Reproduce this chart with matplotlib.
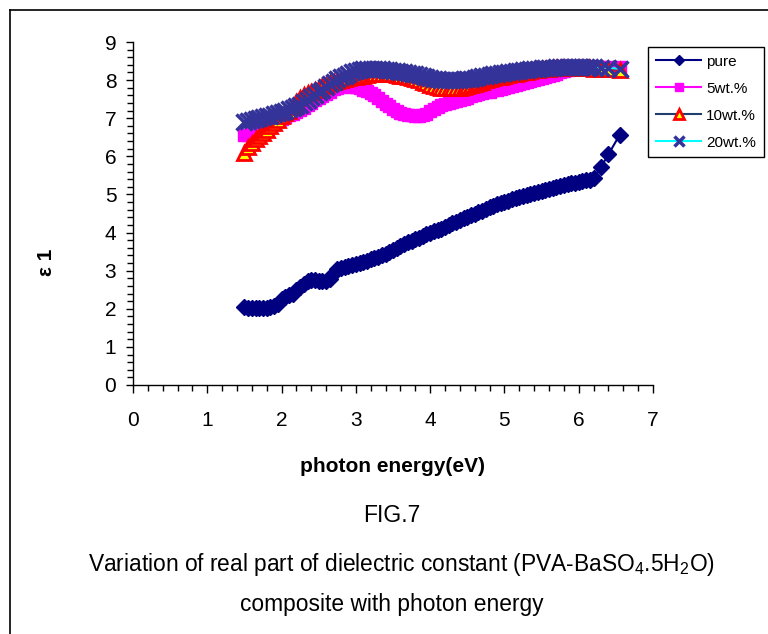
import matplotlib
matplotlib.use("Agg")
import matplotlib.pyplot as plt
from matplotlib.lines import Line2D
from matplotlib.ticker import MultipleLocator

# photon energy (eV)
energy = [1.50, 1.55, 1.60, 1.65, 1.70, 1.75, 1.80, 1.85, 1.90, 1.95,
          2.00, 2.05, 2.10, 2.15, 2.20, 2.25, 2.30, 2.35, 2.40, 2.45,
          2.50, 2.55, 2.60, 2.65, 2.70, 2.75, 2.80, 2.85, 2.90, 2.95,
          3.00, 3.05, 3.10, 3.15, 3.20, 3.25, 3.30, 3.35, 3.40, 3.45,
          3.50, 3.55, 3.60, 3.65, 3.70, 3.75, 3.80, 3.85, 3.90, 3.95,
          4.00, 4.05, 4.10, 4.15, 4.20, 4.25, 4.30, 4.35, 4.40, 4.45,
          4.50, 4.55, 4.60, 4.65, 4.70, 4.75, 4.80, 4.85, 4.90, 4.95,
          5.00, 5.05, 5.10, 5.15, 5.20, 5.25, 5.30, 5.35, 5.40, 5.45,
          5.50, 5.55, 5.60, 5.65, 5.70, 5.75, 5.80, 5.85, 5.90, 5.95,
          6.00, 6.05, 6.10, 6.15, 6.20, 6.30, 6.40, 6.55]

eps_pure = [2.05, 2.03, 2.02, 2.02, 2.02, 2.02, 2.03, 2.05, 2.08, 2.12,
            2.25, 2.30, 2.35, 2.40, 2.50, 2.58, 2.65, 2.72, 2.75, 2.75,
            2.72, 2.72, 2.72, 2.78, 2.95, 3.05, 3.08, 3.10, 3.13, 3.15,
            3.18, 3.20, 3.23, 3.26, 3.30, 3.33, 3.37, 3.41, 3.45, 3.50,
            3.54, 3.59, 3.64, 3.69, 3.74, 3.79, 3.83, 3.87, 3.91, 3.95,
            3.99, 4.03, 4.06, 4.10, 4.14, 4.19, 4.24, 4.29, 4.33, 4.37,
            4.41, 4.45, 4.49, 4.53, 4.57, 4.61, 4.66, 4.70, 4.74, 4.77,
            4.80, 4.84, 4.87, 4.90, 4.93, 4.96, 4.99, 5.02, 5.05, 5.07,
            5.10, 5.12, 5.15, 5.17, 5.20, 5.22, 5.25, 5.27, 5.29, 5.31,
            5.33, 5.35, 5.37, 5.39, 5.42, 5.72, 6.05, 6.56]

eps_5 = [6.55, 6.57, 6.60, 6.64, 6.68, 6.73, 6.78, 6.83, 6.88, 6.93,
         6.98, 7.03, 7.08, 7.12, 7.16, 7.22, 7.28, 7.34, 7.40, 7.47,
         7.53, 7.59, 7.64, 7.70, 7.76, 7.80, 7.82, 7.84, 7.84, 7.83,
         7.81, 7.78, 7.75, 7.71, 7.67, 7.61, 7.54, 7.46, 7.38, 7.31,
         7.24, 7.19, 7.14, 7.11, 7.09, 7.08, 7.07, 7.07, 7.08, 7.12,
         7.18, 7.24, 7.30, 7.34, 7.38, 7.41, 7.43, 7.46, 7.48, 7.51,
         7.54, 7.57, 7.60, 7.63, 7.65, 7.68, 7.70, 7.73, 7.75, 7.77,
         7.79, 7.82, 7.84, 7.87, 7.90, 7.93, 7.95, 7.98, 8.00, 8.03,
         8.05, 8.08, 8.10, 8.13, 8.16, 8.20, 8.23, 8.27, 8.30, 8.32,
         8.33, 8.34, 8.35, 8.35, 8.35, 8.35, 8.35, 8.35]

eps_10 = [6.10, 6.25, 6.35, 6.45, 6.53, 6.62, 6.70, 6.80, 6.88, 6.96,
          7.05, 7.13, 7.20, 7.30, 7.42, 7.52, 7.60, 7.66, 7.70, 7.74,
          7.79, 7.84, 7.88, 7.92, 7.95, 7.98, 8.01, 8.03, 8.05, 8.07,
          8.08, 8.10, 8.12, 8.14, 8.15, 8.16, 8.16, 8.16, 8.16, 8.16,
          8.15, 8.14, 8.12, 8.10, 8.08, 8.05, 8.02, 7.99, 7.95, 7.92,
          7.88, 7.85, 7.82, 7.80, 7.79, 7.78, 7.78, 7.78, 7.79, 7.81,
          7.84, 7.87, 7.90, 7.93, 7.96, 7.99, 8.02, 8.05, 8.07, 8.09,
          8.11, 8.13, 8.15, 8.17, 8.18, 8.20, 8.22, 8.24, 8.26, 8.27,
          8.28, 8.29, 8.30, 8.31, 8.31, 8.31, 8.31, 8.31, 8.31, 8.31,
          8.31, 8.31, 8.31, 8.31, 8.30, 8.30, 8.29, 8.27]

eps_20 = [6.90, 6.92, 6.95, 6.97, 7.00, 7.02, 7.05, 7.07, 7.10, 7.13,
          7.16, 7.19, 7.23, 7.27, 7.31, 7.36, 7.42, 7.48, 7.55, 7.61,
          7.68, 7.75, 7.83, 7.90, 7.96, 8.02, 8.07, 8.12, 8.17, 8.21,
          8.25, 8.27, 8.28, 8.29, 8.29, 8.29, 8.28, 8.28, 8.27, 8.26,
          8.25, 8.24, 8.22, 8.20, 8.18, 8.17, 8.15, 8.14, 8.12, 8.09,
          8.06, 8.04, 8.02, 8.01, 8.00, 8.00, 8.00, 8.00, 8.01, 8.02,
          8.03, 8.04, 8.06, 8.08, 8.10, 8.12, 8.13, 8.15, 8.16, 8.18,
          8.19, 8.21, 8.22, 8.24, 8.25, 8.26, 8.27, 8.28, 8.29, 8.30,
          8.31, 8.32, 8.33, 8.33, 8.34, 8.34, 8.34, 8.34, 8.34, 8.34,
          8.34, 8.34, 8.34, 8.34, 8.34, 8.33, 8.32, 8.30]

labels = ["pure", "5wt.%", "10wt.%", "20wt.%"]

plt.rcParams['font.family'] = ['Liberation Sans', 'DejaVu Sans']
plt.rcParams['mathtext.fontset'] = 'custom'
plt.rcParams['mathtext.rm'] = 'Liberation Sans'

fig = plt.figure(figsize=(7.68, 6.34), dpi=100)
ax = fig.add_axes([133/768, 1-385/634, 520/768, 343/634])

ax.plot(energy, eps_pure, color='#000080', lw=1.5, marker='D', ms=8,
        mfc='#000080', mec='#000080', label=labels[0])
ax.plot(energy, eps_5, color='#FF00FF', lw=1.5, marker='s', ms=8.5,
        mfc='#FF00FF', mec='#FF00FF', label=labels[1])
ax.plot(energy, eps_10, color='#1F3F6F', lw=1.5, marker='^', ms=10,
        mfc='#FFFF00', mec='#FF0000', mew=2, label=labels[2])
ax.plot(energy, eps_20, color='#00FFFF', lw=1.5, marker='x', ms=11,
        mfc='#333399', mec='#333399', mew=2.5, label=labels[3])

ax.set_xlim(0, 7)
ax.set_ylim(0, 9)
ax.xaxis.set_major_locator(MultipleLocator(1))
ax.xaxis.set_minor_locator(MultipleLocator(0.2))
ax.yaxis.set_major_locator(MultipleLocator(1))
ax.yaxis.set_minor_locator(MultipleLocator(0.2))
for s in ['top', 'right']:
    ax.spines[s].set_visible(False)
for s in ['left', 'bottom']:
    ax.spines[s].set_linewidth(1.0)
ax.tick_params(axis='x', which='major', length=6, width=1, pad=13, labelsize=15)
ax.tick_params(axis='x', which='minor', length=4, width=1)
ax.tick_params(axis='y', which='major', length=5, width=1, pad=7, labelsize=15)
ax.tick_params(axis='y', which='minor', length=4, width=1)

fig.text(392/768, 1-466/634, 'photon energy(eV)', ha='center', va='center',
         fontsize=15, fontweight='bold')
fig.text(47/768, 1-262/634, '\u03b5 1', ha='center', va='center',
         fontsize=15, fontweight='bold', rotation=90)

leg = ax.legend(loc='upper left', bbox_to_anchor=(648/768, 1-47/634),
                bbox_transform=fig.transFigure, borderaxespad=0, numpoints=1,
                fancybox=False, edgecolor='black', framealpha=1,
                fontsize=11, handlelength=3.0, handletextpad=0.3,
                labelspacing=0.85, borderpad=0.5, markerscale=0.7)
leg.get_frame().set_linewidth(1.0)

fig.text(392/768, 1-515/634, 'FIG.7', ha='center', va='center', fontsize=16.5)
fig.text(401/768, 1-564/634,
         r'Variation of real part of dielectric constant (PVA-BaSO$_4$.5H$_2$O)',
         ha='center', va='center', fontsize=16.4)
fig.text(392/768, 1-605/634, 'composite with photon energy',
         ha='center', va='center', fontsize=16.4)

# page frame
fig.add_artist(Line2D([9.5/768, 1], [1-9.5/634, 1-9.5/634],
                      transform=fig.transFigure, color='black', lw=1.2))
fig.add_artist(Line2D([9.5/768, 9.5/768], [0, 1-9.5/634],
                      transform=fig.transFigure, color='black', lw=1.2))

fig.savefig('out.png', dpi=100)
